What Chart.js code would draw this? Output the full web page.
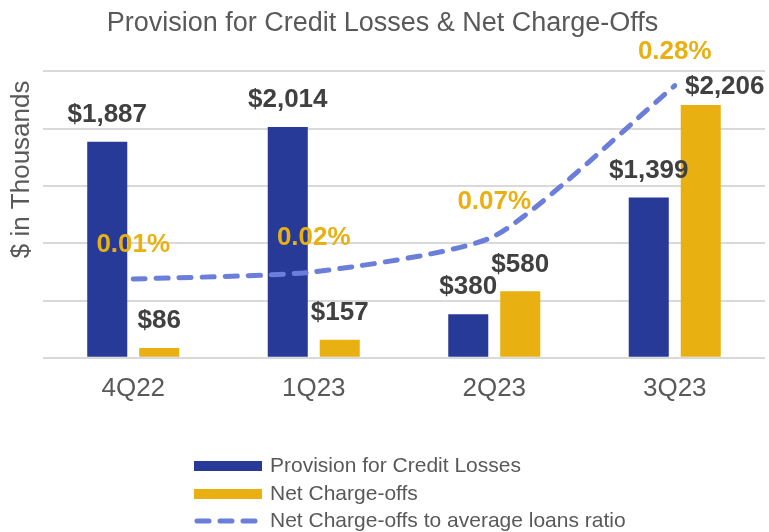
<!DOCTYPE html>
<html>
<head>
<meta charset="utf-8">
<title>Provision for Credit Losses & Net Charge-Offs</title>
<script src="https://cdn.jsdelivr.net/npm/chart.js@4.4.1/dist/chart.umd.min.js"></script>
<style>
  html, body { margin: 0; padding: 0; background: #ffffff; }
  #wrap { position: relative; width: 769px; height: 532px; }
</style>
</head>
<body>
<div id="wrap"><canvas id="chart"></canvas></div>
<script>
// Chart data
const quarters = ["4Q22", "1Q23", "2Q23", "3Q23"];
const provision = [1887, 2014, 380, 1399];
const chargeOffs = [86, 157, 580, 2206];
const chargeOffRatio = [0.01, 0.02, 0.07, 0.28];
const seriesNames = [
  "Provision for Credit Losses",
  "Net Charge-offs",
  "Net Charge-offs to average loans ratio",
];

const BLUE = "#283a97";
const GOLD = "#e9b012";
const LINE = "#6b7ed9";
const GREY_TEXT = "#595959";
const LABEL_TEXT = "#404040";
const FONT = "Arial, 'Liberation Sans', sans-serif";

/**
 * Value labels above bars and line points
 */
const valueLabels = {
  id: "valueLabels",
  afterDatasetsDraw(chart, args, opts) {
    const ctx = chart.ctx;
    ctx.save();
    ctx.textAlign = "center";
    ctx.textBaseline = "middle";
    ctx.font = `bold 26px ${FONT}`;

    chart.data.datasets.forEach((ds, di) => {
      const meta = chart.getDatasetMeta(di);
      meta.data.forEach((el, i) => {
        const v = ds.data[i];
        let text, dx = 0, dy;
        if (ds.type === "line") {
          text = v.toFixed(2) + "%";
          ctx.fillStyle = GOLD;
          dy = -34;
        } else {
          text = "$" + v.toLocaleString("en-US");
          ctx.fillStyle = LABEL_TEXT;
          dy = -27;
        }
        const nudge = (opts.nudges || []).find((n) => n.ds === di && n.i === i);
        if (nudge) {
          dx += nudge.dx;
          dy += nudge.dy;
        }
        ctx.fillText(text, el.x + dx, el.y + dy);
      });
    });
    ctx.restore();
  },
};

/**
 * Rotated y title and stacked legend below the axis
 */
const sideTexts = {
  id: "sideTexts",
  afterDraw(chart) {
    const ctx = chart.ctx;
    const area = chart.chartArea;

    // y axis title
    ctx.save();
    ctx.translate(area.left - 21, area.top + 98);
    ctx.rotate(-Math.PI / 2);
    ctx.font = `26px ${FONT}`;
    ctx.fillStyle = GREY_TEXT;
    ctx.textAlign = "center";
    ctx.textBaseline = "middle";
    ctx.fillText("$ in Thousands", 0, 0);
    ctx.restore();

    // legend
    const left = 194;
    const symW = 68;
    const rowY = [chart.height - 66, chart.height - 38, chart.height - 11];
    ctx.save();
    ctx.font = `21px ${FONT}`;
    ctx.textBaseline = "middle";
    ctx.textAlign = "left";
    chart.data.datasets.forEach((ds, di) => {
      const y = rowY[di];
      if (ds.type === "line") {
        ctx.strokeStyle = LINE;
        ctx.lineWidth = 5;
        ctx.lineCap = "round";
        ctx.setLineDash([12, 11]);
        ctx.beginPath();
        ctx.moveTo(left + 3, y);
        ctx.lineTo(left + symW - 3, y);
        ctx.stroke();
        ctx.setLineDash([]);
      } else {
        ctx.fillStyle = ds.backgroundColor;
        ctx.fillRect(left, y - 5, symW, 10);
      }
      ctx.fillStyle = GREY_TEXT;
      ctx.fillText(ds.label, left + symW + 8, y);
    });
    ctx.restore();
  },
};

const ctx = document.getElementById("chart");

new Chart(ctx, {
  data: {
    labels: quarters,
    datasets: [
      {
        type: "bar",
        label: seriesNames[0],
        data: provision,
        backgroundColor: BLUE,
        barPercentage: 0.77,
        categoryPercentage: 0.576,
        yAxisID: "y",
        order: 1,
      },
      {
        type: "bar",
        label: seriesNames[1],
        data: chargeOffs,
        backgroundColor: GOLD,
        barPercentage: 0.77,
        categoryPercentage: 0.576,
        yAxisID: "y",
        order: 1,
      },
      {
        type: "line",
        label: seriesNames[2],
        data: chargeOffRatio,
        borderColor: LINE,
        borderWidth: 5,
        borderDash: [12, 11],
        borderCapStyle: "round",
        pointRadius: 0,
        tension: 0.2,
        fill: false,
        yAxisID: "y2",
        order: 0,
      },
    ],
  },
  options: {
    responsive: true,
    maintainAspectRatio: false,
    animation: false,
    layout: {
      padding: { left: 0, right: 4, top: 0, bottom: 113 },
    },
    plugins: {
      legend: { display: false },
      tooltip: { enabled: false },
      title: {
        display: true,
        text: "Provision for Credit Losses & Net Charge-Offs",
        color: GREY_TEXT,
        font: { family: FONT, size: 27, weight: "normal" },
        padding: { top: 7, bottom: 32 },
      },
      valueLabels: {
        nudges: [{ ds: 1, i: 3, dx: 24, dy: 9 }],
      },
    },
    scales: {
      x: {
        grid: { display: false, drawTicks: false },
        border: { display: false },
        ticks: {
          color: GREY_TEXT,
          font: { family: FONT, size: 26 },
          padding: 15,
        },
      },
      y: {
        min: 0,
        max: 2500,
        ticks: { display: false, stepSize: 500 },
        grid: { color: "#d9d9d9", lineWidth: 2, drawTicks: false },
        border: { display: false },
        afterFit(scale) {
          scale.width = 43;
        },
      },
      y2: {
        display: false,
        min: -0.1,
        max: 0.3,
        position: "right",
      },
    },
  },
  plugins: [valueLabels, sideTexts],
});
</script>
</body>
</html>
